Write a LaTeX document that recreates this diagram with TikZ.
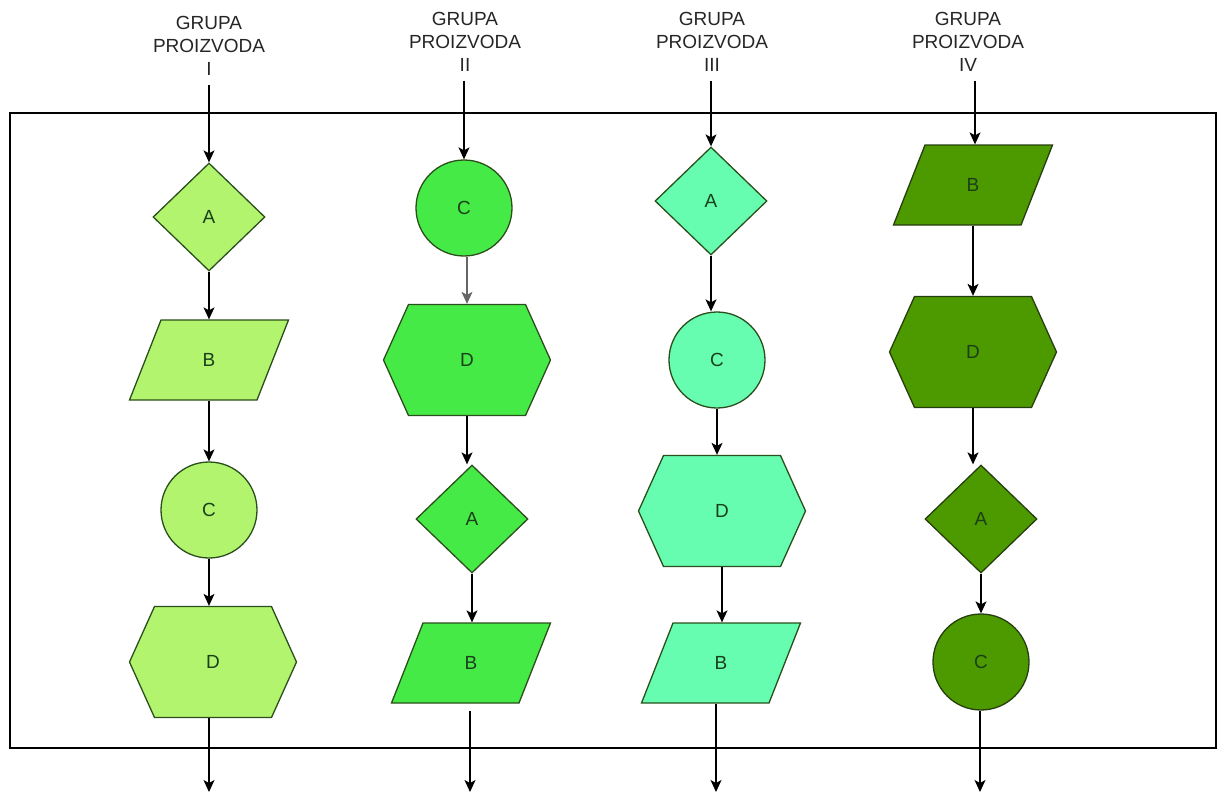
\documentclass[tikz,border=0pt]{standalone}
\usepackage{fontspec}
\setmainfont{Liberation Sans}
\usetikzlibrary{shapes.geometric,arrows.meta}
\definecolor{fillA}{HTML}{B3F46E}
\definecolor{fillB}{HTML}{46EA46}
\definecolor{fillC}{HTML}{66FDB0}
\definecolor{fillD}{HTML}{4D9900}
\definecolor{strokeA}{HTML}{2A4F1C}
\definecolor{strokeB}{HTML}{2A4F1C}
\definecolor{strokeC}{HTML}{2A4F1C}
\definecolor{strokeD}{HTML}{263F0E}
\definecolor{txtc}{HTML}{1A401A}
\definecolor{labelc}{HTML}{262626}
\tikzset{
  conn/.style={line width=1.2pt, -{Stealth[length=12pt,width=11pt,inset=3pt]}},
  lbl/.style={align=center, font=\fontsize{19}{23}\selectfont, text=labelc, inner sep=0pt, outer ysep=9pt},
  shp/.style={line width=1.3pt, text=txtc, font=\fontsize{19}{22}\selectfont, inner sep=0pt},
  dia/.style={shp, diamond, draw=stroke#1, fill=fill#1, minimum width=112pt, minimum height=108pt},
  circ/.style={shp, circle, draw=stroke#1, fill=fill#1, minimum size=96pt},
  box/.style={shp, rectangle, draw=none, fill=none},
  frame/.style={line width=1.4pt, draw=black}
}
\newcommand{\hexD}[4]{%
  \filldraw[line width=1.3pt, fill=fill#4, draw=stroke#4, shift={(#2,#3)}]
    (-83.5,0) -- (-58.5,-55.5) -- (58.5,-55.5) -- (83.5,0) -- (58.5,55.5) -- (-58.5,55.5) -- cycle;
  \node[box, minimum width=167pt, minimum height=111pt] (#1) at (#2,#3) {D};}
\newcommand{\paraB}[4]{%
  \filldraw[line width=1.3pt, fill=fill#4, draw=stroke#4, shift={(#2,#3)}]
    (-48,-40) -- (79.5,-40) -- (48,40) -- (-79.5,40) -- cycle;
  \node[box, minimum width=128pt, minimum height=80pt] (#1) at (#2,#3) {B};}
\begin{document}
\begin{tikzpicture}[x=1pt,y=-1pt]
\useasboundingbox (0,0) rectangle (1221,796);
\draw[frame] (10,113) rectangle (1216,748);
% labels
\node[lbl] (g1) at (209,46) {GRUPA\\PROIZVODA\\I};
\node[lbl] (g2) at (465,42) {GRUPA\\PROIZVODA\\II};
\node[lbl] (g3) at (712,42) {GRUPA\\PROIZVODA\\III};
\node[lbl] (g4) at (968,42) {GRUPA\\PROIZVODA\\IV};
% column 1
\node[dia=A] (a1) at (209,217) {A};
\paraB{b1}{209}{360}{A}
\node[circ=A] (c1) at (209,510) {C};
\hexD{d1}{213}{662}{A}
\coordinate (e1) at (209,792);
% column 2
\node[circ=B] (c2) at (464,208) {C};
\hexD{d2}{467}{360}{B}
\node[dia=B] (a2) at (472,519) {A};
\paraB{b2}{471}{663}{B}
\coordinate (e2) at (470,792);
% column 3
\node[dia=C] (a3) at (711,201) {A};
\node[circ=C] (c3) at (717,360) {C};
\hexD{d3}{722}{511}{C}
\paraB{b3}{721}{663}{C}
\coordinate (e3) at (716,792);
% column 4
\paraB{b4}{973}{185}{D}
\hexD{d4}{973}{352}{D}
\node[dia=D] (a4) at (981,519) {A};
\node[circ=D] (c4) at (981,662) {C};
\coordinate (e4) at (980,792);
% connectors column 1
\draw[conn] (a1.north |- g1.south) -- (a1.north);
\draw[conn] (a1.south) -- (a1.south |- b1.north);
\draw[conn] (b1.south) -- (b1.south |- c1.north);
\draw[conn] (c1.south) -- (c1.south |- d1.north);
\draw[conn] (e1 |- d1.south) -- (e1);
% connectors column 2
\draw[conn] (c2.north |- g2.south) -- (c2.north);
\draw[conn, draw=gray!80!black] (d2.north |- c2.south) -- (d2.north);
\draw[conn] (d2.south) -- (d2.south |- a2.north);
\draw[conn] (a2.south) -- (a2.south |- b2.north);
\draw[conn] ([yshift=-7pt]e2 |- b2.south) -- (e2);
% connectors column 3
\draw[conn] (a3.north |- g3.south) -- (a3.north);
\draw[conn] (a3.south) -- (a3.south |- c3.north);
\draw[conn] (c3.south) -- (c3.south |- d3.north);
\draw[conn] (d3.south) -- (d3.south |- b3.north);
\draw[conn] (e3 |- b3.south) -- (e3);
% connectors column 4
\draw[conn] ([xshift=2pt]b4.north |- g4.south) -- ([xshift=2pt]b4.north);
\draw[conn] (b4.south) -- (b4.south |- d4.north);
\draw[conn] (d4.south) -- (d4.south |- a4.north);
\draw[conn] (a4.south) -- (a4.south |- c4.north);
\draw[conn] (e4 |- c4.south) -- (e4);
\end{tikzpicture}
\end{document}
